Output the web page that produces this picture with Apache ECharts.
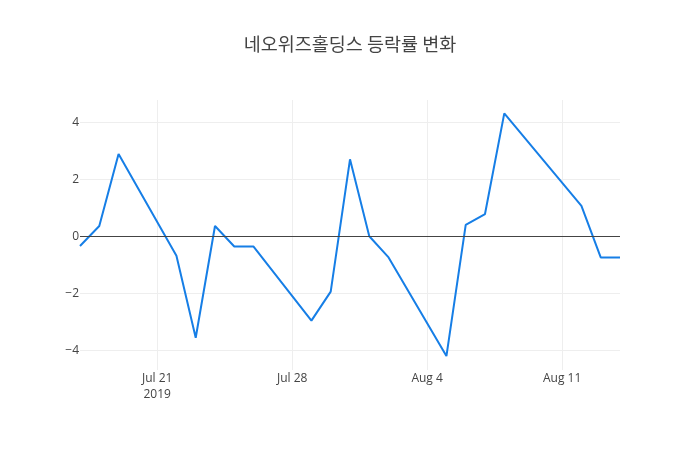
<!DOCTYPE html>
<html lang="ko">
<head>
<meta charset="UTF-8">
<title>등락률 변화</title>
<style>
    * { margin: 0; padding: 0; }
    #chart { width: 700px; height: 450px; background: #fff; }
</style>
<script src="https://cdn.jsdelivr.net/npm/echarts@6/dist/echarts.min.js"></script>
</head>
<body>
<div id="chart"></div>
<script>
// 거래일 / 등락률(%)
var dates = ['2019-07-17', '2019-07-18', '2019-07-19', '2019-07-22', '2019-07-23', '2019-07-24',
    '2019-07-25', '2019-07-26', '2019-07-29', '2019-07-30', '2019-07-31', '2019-08-01',
    '2019-08-02', '2019-08-05', '2019-08-06', '2019-08-07', '2019-08-08', '2019-08-12',
    '2019-08-13', '2019-08-14'];
var rates = [-0.34, 0.36, 2.89, -0.68, -3.56, 0.36, -0.36, -0.36, -2.96, -1.94, 2.70, 0.0,
    -0.74, -4.20, 0.40, 0.78, 4.31, 1.07, -0.74, -0.74];
var xTicks = ['2019-07-21', '2019-07-28', '2019-08-04', '2019-08-11'];
var yTicks = [-4, -2, 0, 2, 4];

var MONTHS = ['Jan', 'Feb', 'Mar', 'Apr', 'May', 'Jun', 'Jul', 'Aug', 'Sep', 'Oct', 'Nov', 'Dec'];
function ts(s) {
    var p = s.split('-');
    return Date.UTC(+p[0], +p[1] - 1, +p[2]);
}
var xTickVals = xTicks.map(ts);

var chart = echarts.init(document.getElementById('chart'));
var font = '"Open Sans", "Noto Sans CJK KR", sans-serif';

chart.setOption({
    animation: false,
    title: {
        text: '네오위즈홀딩스 등락률 변화',
        left: 'center',
        top: 30,
        textStyle: { fontFamily: '"Noto Sans CJK KR", sans-serif', fontSize: 18.5, fontWeight: 'normal', color: '#444' }
    },
    grid: { left: 80, right: 80, top: 100, bottom: 80 },
    xAxis: {
        type: 'value',
        min: ts(dates[0]),
        max: ts(dates[dates.length - 1]),
        axisLine: { show: false },
        axisTick: { show: false, customValues: xTickVals },
        splitLine: { show: true, lineStyle: { color: '#eee', width: 1 } },
        axisLabel: {
            customValues: xTickVals,
            margin: 1,
            color: '#444',
            fontFamily: font,
            fontSize: 12,
            lineHeight: 16,
            formatter: function (v) {
                var d = new Date(v);
                var s = MONTHS[d.getUTCMonth()] + ' ' + d.getUTCDate();
                if (v === xTickVals[0]) s += '\n' + d.getUTCFullYear();
                return s;
            }
        }
    },
    yAxis: {
        type: 'value',
        min: -4.69,
        max: 4.78,
        axisLine: { show: false },
        axisTick: { show: false, customValues: yTicks },
        splitLine: { show: true, lineStyle: { color: '#eee', width: 1 } },
        axisLabel: {
            customValues: yTicks,
            margin: 1,
            color: '#444',
            fontFamily: font,
            fontSize: 12,
            formatter: function (v) { return String(v).replace('-', '\u2212'); }
        }
    },
    series: [{
        type: 'line',
        data: dates.map(function (d, i) { return [ts(d), rates[i]]; }),
        showSymbol: false,
        lineStyle: { color: '#167ee6', width: 2 },
        itemStyle: { color: '#167ee6' },
        markLine: {
            silent: true,
            symbol: 'none',
            label: { show: false },
            lineStyle: { color: '#444', width: 1, type: 'solid' },
            data: [{ yAxis: 0 }]
        },
        z: 3
    }]
});
</script>
</body>
</html>
